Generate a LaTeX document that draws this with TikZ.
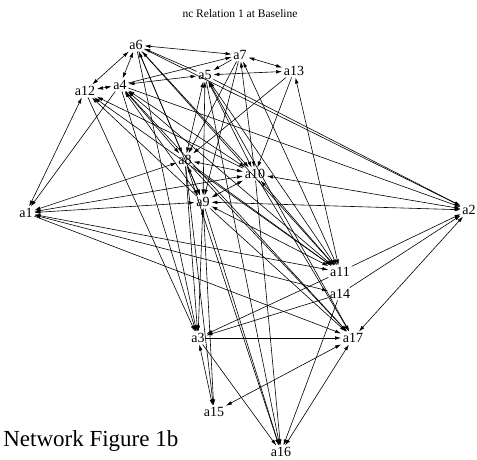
\documentclass[tikz,border=0pt]{standalone}
\usepackage{fontspec}
\setmainfont{Liberation Serif}
\usetikzlibrary{arrows.meta}

\begin{document}
\begin{tikzpicture}[
    x=1pt, y=-1pt,
    >={Latex[length=6pt,width=3.6pt]},
    line width=0.6pt,
    actor/.style={font=\fontsize{14}{16}\selectfont, inner sep=1.5pt},
    every edge/.style={draw, line width=0.6pt}
]
    \useasboundingbox (0,0) rectangle (477,459);

    \node[font=\fontsize{11.5}{13}\selectfont] (title) at (240,14) {nc Relation 1 at Baseline};
    \node[font=\fontsize{23}{26}\selectfont, anchor=base west, inner sep=0pt] (caption) at (3,446) {Network Figure 1b};

    % Actors placed at their layout positions.
    \node[actor] (a6) at (136,45) {a6};
    \node[actor] (a7) at (240,55) {a7};
    \node[actor] (a5) at (205,75) {a5};
    \node[actor] (a13) at (294,71) {a13};
    \node[actor] (a4) at (120,85) {a4};
    \node[actor] (a12) at (85,91) {a12};
    \node[actor] (a8) at (185,160) {a8};
    \node[actor] (a10) at (255,174) {a10};
    \node[actor] (a9) at (203,202) {a9};
    \node[actor] (a1) at (26,213) {a1};
    \node[actor] (a2) at (469,210) {a2};
    \node[actor] (a11) at (340,272) {a11};
    \node[actor] (a14) at (340,294) {a14};
    \node[actor] (a17) at (353,338) {a17};
    \node[actor] (a3) at (198,338) {a3};
    \node[actor] (a15) at (214,412) {a15};
    \node[actor] (a16) at (281,452) {a16};

    \path[->]
        (a6) edge[<->] (a7)
        (a5) edge (a6)
        (a6) edge[<->] (a12)
        (a6) edge[<->] (a4)
        (a4) edge[<->] (a5)
        (a4) edge (a7)
        (a7) edge (a5)
        (a5) edge[<->] (a13)
        (a7) edge[<->] (a13)
        (a12) edge[<->] (a4)
        (a12) edge[<->] (a1)
        (a4) edge (a1)
        (a1) edge[<->] (a8)
        (a1) edge[<->] (a9)
        (a1) edge[<->] (a10)
        (a1) edge[<->] (a11)
        (a1) edge[<->] (a14)
        (a1) edge (a17)
        (a9) edge (a12)
        (a10) edge (a12)
        (a11) edge (a12)
        (a12) edge (a3)
        (a4) edge (a8)
        (a4) edge[<->] (a9)
        (a4) edge[<->] (a10)
        (a4) edge[<->] (a11)
        (a4) edge (a17)
        (a4) edge (a3)
        (a4) edge (a2)
        (a6) edge (a8)
        (a6) edge[<->] (a9)
        (a6) edge[<->] (a10)
        (a6) edge (a11)
        (a6) edge (a3)
        (a6) edge (a2)
        (a5) edge[<->] (a8)
        (a5) edge[<->] (a9)
        (a5) edge[<->] (a10)
        (a5) edge[<->] (a11)
        (a5) edge (a17)
        (a5) edge (a2)
        (a5) edge (a16)
        (a7) edge (a9)
        (a7) edge[<->] (a10)
        (a7) edge[<->] (a11)
        (a7) edge (a8)
        (a13) edge (a8)
        (a13) edge (a10)
        (a13) edge[<->] (a11)
        (a8) edge[<->] (a10)
        (a8) edge[<->] (a9)
        (a8) edge (a11)
        (a8) edge (a17)
        (a8) edge (a3)
        (a8) edge (a15)
        (a8) edge (a16)
        (a9) edge[<->] (a10)
        (a9) edge[<->] (a2)
        (a9) edge[<->] (a11)
        (a9) edge (a17)
        (a9) edge[<->] (a3)
        (a9) edge (a15)
        (a9) edge (a16)
        (a10) edge[<->] (a2)
        (a10) edge[<->] (a11)
        (a10) edge (a17)
        (a10) edge (a16)
        (a11) edge (a2)
        (a14) edge (a2)
        (a2) edge[<->] (a17)
        (a11) edge (a3)
        (a14) edge (a3)
        (a3) edge (a17)
        (a3) edge[<->] (a15)
        (a3) edge (a16)
        (a15) edge[<->] (a17)
        (a16) edge[<->] (a17)
        (a14) edge (a16);
\end{tikzpicture}
\end{document}
